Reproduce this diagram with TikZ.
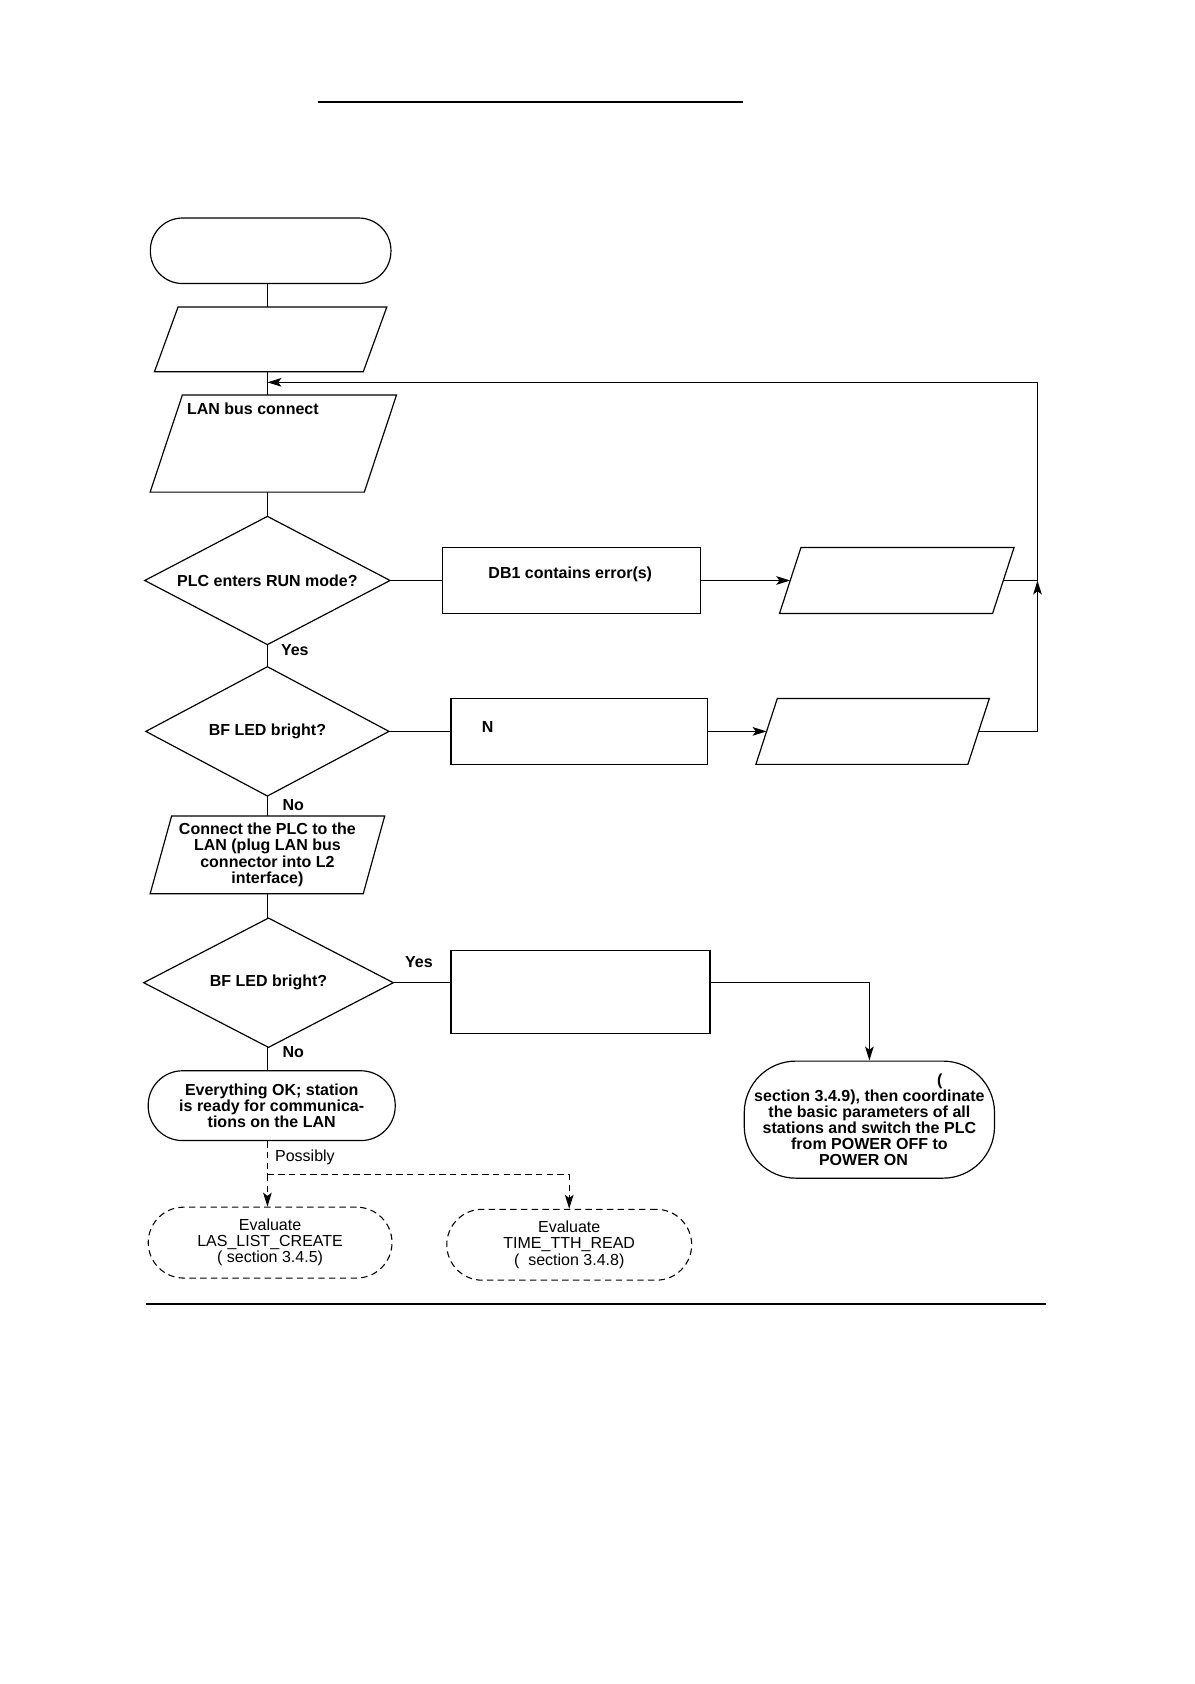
\documentclass[tikz,border=0pt]{standalone}
\usepackage{fontspec}
\setmainfont{Liberation Sans}
\usetikzlibrary{arrows.meta,calc}
\newcommand\mypara[2]{\draw[outl] ($(#1.north west)+(#2,0)$) -- (#1.north east) -- ($(#1.south east)-(#2,0)$) -- (#1.south west) -- cycle;}
\newcommand\mydiam[1]{\draw[outl] (#1.north) -- (#1.east) -- (#1.south) -- (#1.west) -- cycle;}
\begin{document}
\begin{tikzpicture}[x=1pt,y=-1pt,
  every node/.style={font=\fontsize{14.9}{15}\selectfont\bfseries, align=center, inner sep=0pt},
  plain/.style={font=\fontsize{14.9}{15}\selectfont\mdseries},
  shp/.style={draw=none, inner sep=0pt},
  outl/.style={line width=1.1pt, line join=miter},
  term/.style={draw, line width=1.1pt, rounded corners=30pt, inner sep=0pt},
  dterm/.style={term, line width=1pt, dash pattern=on 6pt off 4pt},
  rbox/.style={draw, line width=1.1pt},
  conn/.style={line width=1.1pt},
  arr/.style={conn, -{Stealth[length=13pt,width=8pt,inset=3pt]}},
  loopln/.style={line width=1.5pt},
  dconn/.style={line width=1pt, dash pattern=on 6pt off 4pt},
  darr/.style={dconn, -{Stealth[length=13pt,width=8pt,inset=3pt]}},
  rule/.style={line width=2pt}
]
\useasboundingbox (0,0) rectangle (1112,1568);

% rules
\coordinate (topA) at (296,95);
\coordinate (topB) at (692,95);
\draw[rule] (topA) -- (topB);
\coordinate (botA) at (136,1214);
\coordinate (botB) at (974,1214);
\draw[rule] (botA) -- (botB);

% start terminator
\node[term, minimum width=224pt, minimum height=61pt] (start) at (252,233.5) {};

% parallelogram 1
\node[shp, minimum width=216pt, minimum height=60pt] (p1) at (252,316) {};
\mypara{p1}{22}

% parallelogram 2
\node[shp, minimum width=229pt, minimum height=90pt] (p2) at (254.5,413) {};
\mypara{p2}{30}
\node[anchor=west] (p2t) at (174,381) {LAN bus connect};

% decision 1
\node[shp, minimum width=228pt, minimum height=119pt] (d1) at (249,540.5) {PLC enters RUN mode?};
\mydiam{d1}
\node[rbox, minimum width=240pt, minimum height=61pt] (r1) at (532,540.5) {};
\node (r1t) at (531,535) {DB1 contains error(s)};
\node[shp, minimum width=218pt, minimum height=61pt] (p3) at (835,540.5) {};
\mypara{p3}{20}
\coordinate (p3w) at ($(p3.west)+(10,0)$);
\coordinate (p3e) at ($(p3.east)-(10,0)$);

% decision 2
\node[shp, minimum width=226pt, minimum height=120pt] (d2) at (249,681) {BF LED bright?};
\mydiam{d2}
\node[rbox, minimum width=239pt, minimum height=61pt] (r2) at (539.5,681) {};
\node (r2t) at (454,677) {N};
\node[shp, minimum width=217pt, minimum height=61pt] (p4) at (812.5,681) {};
\mypara{p4}{20}
\coordinate (p4w) at ($(p4.west)+(10,0)$);
\coordinate (p4e) at ($(p4.east)-(10,0)$);

% loop coordinates
\coordinate (lp1) at (966,540.5);
\coordinate (lp0) at (966,356);

% parallelogram 5
\node[shp, minimum width=218pt, minimum height=72pt] (p5) at (249,796) {Connect the PLC to the\\LAN (plug LAN bus\\connector into L2\\interface)};
\mypara{p5}{20}

% decision 3
\node[shp, minimum width=232pt, minimum height=120pt] (d3) at (250,915) {BF LED bright?};
\mydiam{d3}
\node[rbox, minimum width=241pt, minimum height=77pt] (r3) at (540.5,923.5) {};

% right terminator
\node[term, rounded corners=48pt, minimum width=233pt, minimum height=109pt] (tr) at (809.5,1042.5)
  {\hspace*{142pt}(\hspace*{11pt}\\section 3.4.9), then coordinate\hspace*{11pt}\\the basic parameters of all\hspace*{11pt}\\stations and switch the PLC\hspace*{11pt}\\from POWER OFF to\hspace*{11pt}\\POWER ON\hspace*{11pt}};

% OK terminator
\node[term, rounded corners=32pt, minimum width=230pt, minimum height=65pt] (ok) at (253,1029.5)
  {Everything OK; station\\is ready for communica-\\tions on the LAN};

% dashed terminators
\node[dterm, plain, rounded corners=33pt, minimum width=227pt, minimum height=66pt] (e1) at (251.5,1157)
  {Evaluate\\LAS\_LIST\_CREATE\\( section 3.4.5)};
\node[dterm, plain, rounded corners=33pt, minimum width=228pt, minimum height=66pt] (e2) at (530,1159)
  {Evaluate\\TIME\_TTH\_READ\\(\ \ section 3.4.8)};
\coordinate (br) at (249,1094);

% labels
\node (y1) at (274.5,605) {Yes};
\node (n1) at (273,750) {No};
\node (y2) at (390,896) {Yes};
\node (n2) at (273,980) {No};
\node[plain, anchor=west] (pos) at (256,1078) {Possibly};

% main column connectors
\draw[conn] (start.south -| d1.north) -- (p1.north -| d1.north);
\draw[conn] (p1.south -| d1.north) -- (p2.north -| d1.north);
\draw[conn] (p2.south -| d1.north) -- (d1.north);
\draw[conn] (d1.south) -- (d2.north);
\draw[conn] (d2.south) -- (p5.north -| d2.south);
\draw[conn] (p5.south -| d2.south) -- (d3.north -| d2.south);
\draw[conn] (d3.south -| d2.south) -- (ok.north -| d2.south);

% row 1
\draw[conn] (d1.east) -- (r1.west |- d1.east);
\draw[arr] (r1.east |- d1.east) -- (p3w);
\draw[loopln, -{Stealth[length=13pt,width=8pt,inset=3pt]}] (p3e) -- (lp1) -- (lp0) -- (lp0 -| d1.north);

% row 2
\draw[conn] (d2.east) -- (r2.west);
\draw[arr] (r2.east) -- (p4w);
\draw[loopln, -{Stealth[length=13pt,width=8pt,inset=3pt]}] (p4e) -- (p4e -| lp1) -- (lp1);

% row 3
\draw[conn] (d3.east) -- (d3.east -| r3.west);
\draw[arr] (d3.east -| r3.east) -- (d3.east -| tr.north) -- (tr.north);

% possibly branch
\draw[dconn] (ok.south -| d2.south) -- (br);
\draw[darr] (br) -- (e1.north -| br);
\draw[darr] (br) -- (br -| e2.north) -- (e2.north);
\end{tikzpicture}
\end{document}
